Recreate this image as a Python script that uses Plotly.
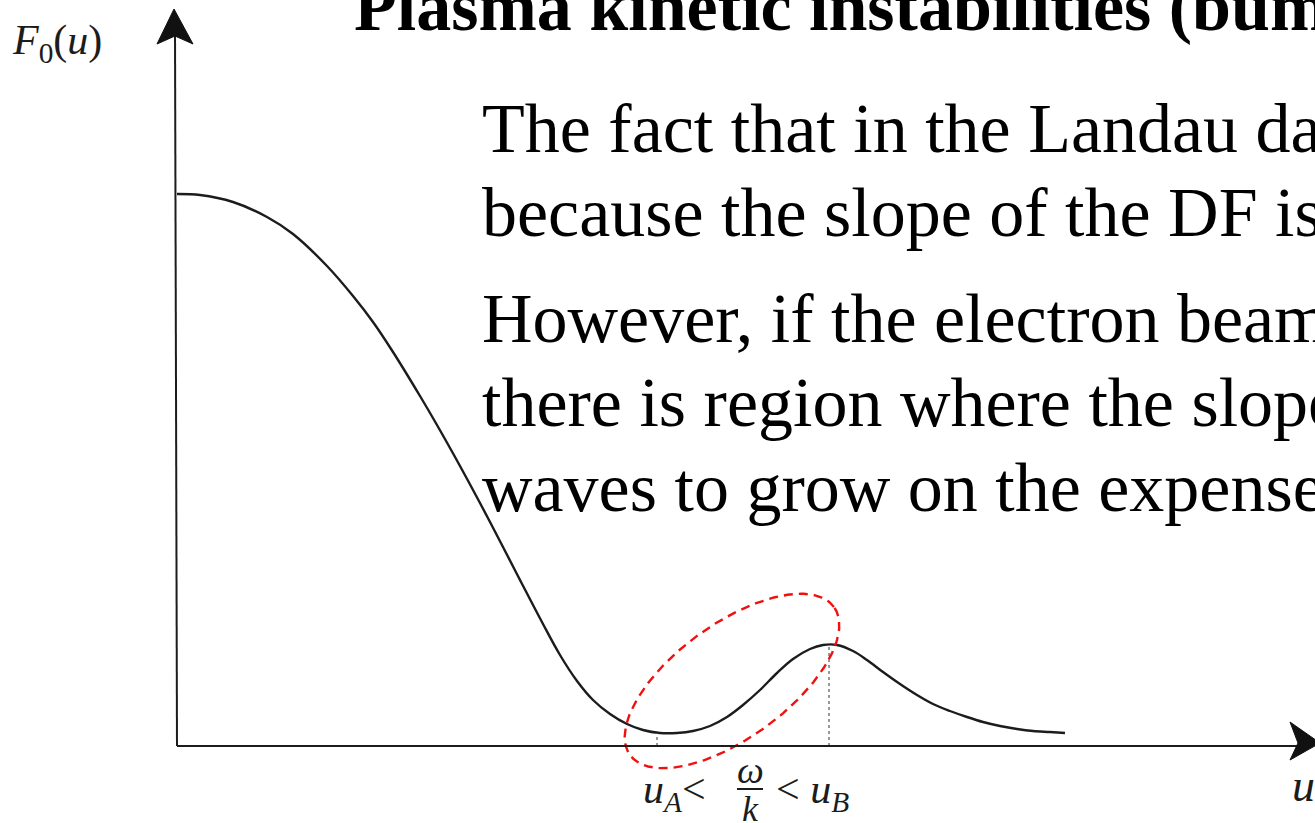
import numpy as np
import plotly.graph_objects as go

# Velocity distribution with a bump on the tail: u (horizontal) and F0(u) (vertical)
u_vals = [0.00, 0.23, 0.56, 0.90, 1.16, 1.50, 1.76, 1.96, 2.16, 2.43, 2.60, 2.83,
          3.03, 3.26, 3.43, 3.66, 3.83, 4.00, 4.16, 4.33, 4.50, 4.66, 4.83, 5.00,
          5.16, 5.33, 5.50, 5.66, 5.83, 6.00, 6.16, 6.33, 6.46, 6.60, 6.76, 6.90,
          7.06, 7.23, 7.40, 7.56, 7.73, 7.90, 8.06, 8.23, 8.40, 8.56, 8.73, 8.88]
f_vals = [5.52, 5.51, 5.44, 5.29, 5.12, 4.80, 4.50, 4.24, 3.94, 3.50, 3.21, 2.80,
          2.43, 1.99, 1.66, 1.22, 0.91, 0.65, 0.46, 0.32, 0.22, 0.16, 0.13, 0.13,
          0.15, 0.20, 0.29, 0.41, 0.56, 0.73, 0.87, 0.97, 1.01, 1.01, 0.95, 0.86,
          0.74, 0.62, 0.51, 0.42, 0.35, 0.29, 0.24, 0.20, 0.17, 0.15, 0.14, 0.13]

# Phase-velocity window between the trough (u_A) and the bump maximum (u_B)
u_A, f_A = 4.80, 0.13
u_B, f_B = 6.52, 1.01

# Highlight ellipse around the positive-slope region
ell_center = (5.55, 0.65)
ell_axes = (1.26, 0.57)
ell_angle_deg = 36.0

title_text = "Plasma kinetic instabilities (bump-on-tail)"
para1 = ["The fact that in the Landau damping",
         "because the slope of the DF is negative"]
para2 = ["However, if the electron beam",
         "there is region where the slope",
         "waves to grow on the expense"]
line_baselines = [169, 253, 359, 443, 528]

W, H = 1315, 823
X_RANGE = [-1.77, 11.38]
Y_RANGE = [-0.77, 7.46]

SERIF = "Liberation Serif, Times New Roman, serif"
INK = "#1c1c1c"


def px(x):
    return x / W


def py(y):
    return 1 - y / H


fig = go.Figure()

# distribution function
fig.add_trace(go.Scatter(
    x=u_vals, y=f_vals, mode="lines",
    line=dict(color=INK, width=2.4, shape="spline", smoothing=1.0),
    hoverinfo="skip"))

# dotted drop lines at u_A and u_B
for uu, ff in [(u_A, f_A), (u_B, f_B)]:
    fig.add_trace(go.Scatter(
        x=[uu, uu], y=[0, ff], mode="lines",
        line=dict(color="#555555", width=1.2, dash="dot"),
        hoverinfo="skip"))

# red dashed ellipse
t = np.linspace(0, 2 * np.pi, 240)
th = np.deg2rad(ell_angle_deg)
a, b = ell_axes
ex = ell_center[0] + a * np.cos(t) * np.cos(th) - b * np.sin(t) * np.sin(th)
ey = ell_center[1] + a * np.cos(t) * np.sin(th) + b * np.sin(t) * np.cos(th)
fig.add_trace(go.Scatter(
    x=ex, y=ey, mode="lines",
    line=dict(color="#f01010", width=2.4, dash="9px,6px"),
    hoverinfo="skip"))

# coordinate axes with arrowheads
fig.add_shape(type="line", x0=0, y0=0, x1=-0.02, y1=7.15,
              line=dict(color=INK, width=2))
fig.add_shape(type="line", x0=0, y0=0, x1=11.20, y1=0.0,
              line=dict(color=INK, width=2))
fig.add_shape(type="path",
              path="M -0.03 7.37 L -0.20 7.02 L -0.02 7.10 L 0.16 7.02 Z",
              fillcolor="#111111", line=dict(color="#111111", width=1))
fig.add_shape(type="path",
              path="M 11.43 0.03 L 11.13 0.24 L 11.21 0.03 L 11.13 -0.14 Z",
              fillcolor="#111111", line=dict(color="#111111", width=1))

ann = []
# slide title
ann.append(dict(x=px(352), y=py(47), xref="paper", yref="paper",
                text="<b>" + title_text + "</b>", showarrow=False,
                xanchor="left", yanchor="bottom",
                font=dict(family=SERIF, size=70, color="#000000")))
# body text
for txt, base in zip(para1 + para2, line_baselines):
    ann.append(dict(x=px(480), y=py(base), xref="paper", yref="paper",
                    text=txt, showarrow=False, xanchor="left", yanchor="bottom",
                    font=dict(family=SERIF, size=70, color="#000000")))
# axis labels
ann.append(dict(x=px(10), y=py(43), xref="paper", yref="paper",
                text="<i>F</i><sub>0</sub>(<i>u</i>)", showarrow=False,
                xanchor="left", yanchor="middle",
                font=dict(family=SERIF, size=42, color=INK)))
ann.append(dict(x=px(1290), y=py(785), xref="paper", yref="paper",
                text="<i>u</i>", showarrow=False, xanchor="left", yanchor="middle",
                font=dict(family=SERIF, size=46, color=INK)))
# phase velocity inequality
ann.append(dict(x=px(641), y=py(792), xref="paper", yref="paper",
                text="<i>u</i><sub><i>A</i></sub><", showarrow=False,
                xanchor="left", yanchor="middle",
                font=dict(family=SERIF, size=42, color=INK)))
ann.append(dict(x=px(750), y=py(770), xref="paper", yref="paper",
                text="<i>ω</i>", showarrow=False, xanchor="center", yanchor="middle",
                font=dict(family=SERIF, size=38, color=INK)))
ann.append(dict(x=px(750), y=py(809), xref="paper", yref="paper",
                text="<i>k</i>", showarrow=False, xanchor="center", yanchor="middle",
                font=dict(family=SERIF, size=36, color=INK)))
ann.append(dict(x=px(774), y=py(792), xref="paper", yref="paper",
                text="< <i>u</i><sub><i>B</i></sub>", showarrow=False,
                xanchor="left", yanchor="middle",
                font=dict(family=SERIF, size=42, color=INK)))
fig.add_shape(type="line", xref="paper", yref="paper",
              x0=px(737), x1=px(763), y0=py(789), y1=py(789),
              line=dict(color=INK, width=2))

fig.update_layout(
    width=W, height=H,
    margin=dict(l=0, r=0, t=0, b=0),
    paper_bgcolor="white", plot_bgcolor="white",
    showlegend=False,
    annotations=ann,
    xaxis=dict(range=X_RANGE, visible=False, fixedrange=True),
    yaxis=dict(range=Y_RANGE, visible=False, fixedrange=True),
)

fig.write_html("out.html", config={"displayModeBar": False})
